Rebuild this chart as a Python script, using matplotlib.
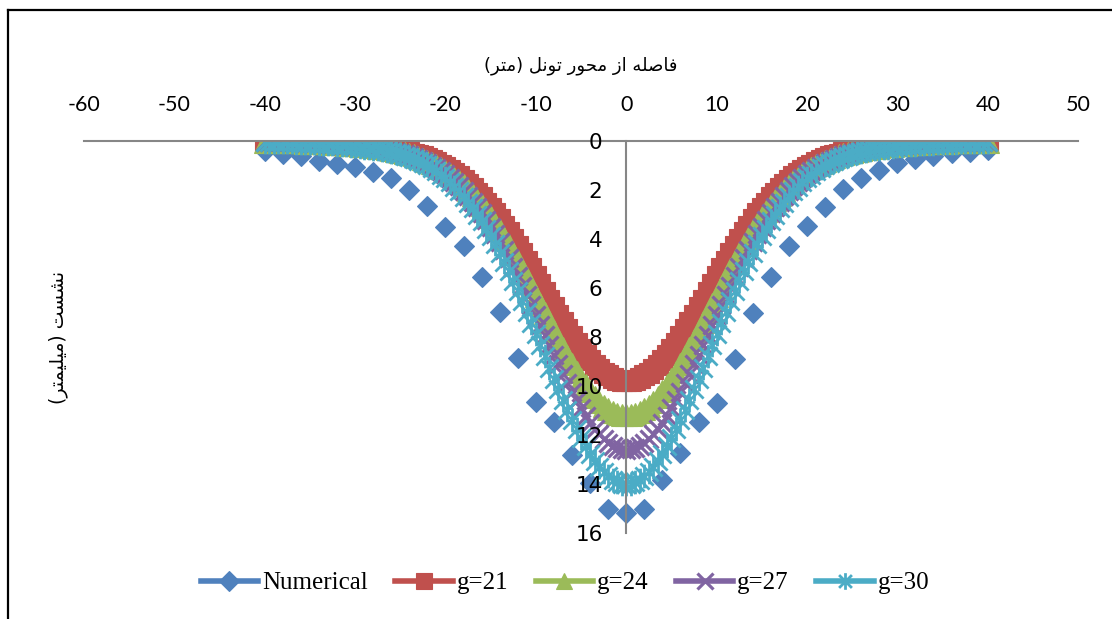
import numpy as np
import matplotlib

matplotlib.use("Agg")
import matplotlib.pyplot as plt
from matplotlib.lines import Line2D
from matplotlib.path import Path

plt.rcParams["axes.unicode_minus"] = False

# distance from tunnel axis (m) and settlement (mm)
num_x = [-40, -38, -36, -34, -32, -30, -28, -26, -24, -22, -20, -18, -16, -14, -12, -10, -8, -6, -4, -2,
         0, 2, 4, 6, 8, 10, 12, 14, 16, 18, 20, 22, 24, 26, 28, 30, 32, 34, 36, 38, 40]
num_s = [0.42, 0.52, 0.63, 0.80, 0.95, 1.05, 1.25, 1.52, 1.98, 2.66, 3.50, 4.30, 5.56, 6.97, 8.87, 10.65, 11.46,
         12.80, 13.95, 15.00, 15.20, 15.00, 13.84, 12.75, 11.46, 10.68, 8.90, 7.00, 5.55, 4.28, 3.45, 2.68, 1.96,
         1.49, 1.18, 0.91, 0.75, 0.61, 0.50, 0.44, 0.37]

# g-curves are symmetric about the axis: values for x = 0, 0.5, ..., 40
half_x = np.arange(0, 40.5, 0.5)
g21 = [9.80, 9.79, 9.74, 9.67, 9.57, 9.45, 9.31, 9.13, 8.94, 8.72, 8.49, 8.23, 7.97, 7.68, 7.40, 7.10,
       6.79, 6.48, 6.15, 5.83, 5.52, 5.20, 4.89, 4.59, 4.28, 4.00, 3.72, 3.45, 3.19, 2.95, 2.72, 2.51,
       2.29, 2.11, 1.92, 1.75, 1.59, 1.44, 1.30, 1.18, 1.06, 0.96, 0.86, 0.77, 0.70, 0.63, 0.57, 0.51,
       0.46, 0.42, 0.38, 0.34, 0.31, 0.28, 0.26, 0.24, 0.22, 0.20, 0.19, 0.17, 0.16, 0.14, 0.13, 0.12,
       0.11, 0.10, 0.09, 0.08, 0.08, 0.07, 0.06, 0.06, 0.05, 0.05, 0.04, 0.04, 0.04, 0.03, 0.03, 0.03, 0.03]
g24 = [11.20, 11.19, 11.13, 11.05, 10.94, 10.80, 10.64, 10.44, 10.21, 9.97, 9.70, 9.41, 9.11, 8.78, 8.46,
       8.11, 7.76, 7.40, 7.03, 6.66, 6.31, 5.95, 5.59, 5.24, 4.89, 4.57, 4.26, 3.94, 3.65, 3.37, 3.11, 2.87,
       2.62, 2.41, 2.20, 2.00, 1.81, 1.65, 1.49, 1.34, 1.21, 1.10, 0.99, 0.88, 0.80, 0.72, 0.65, 0.58, 0.53,
       0.48, 0.44, 0.39, 0.36, 0.32, 0.30, 0.27, 0.25, 0.22, 0.21, 0.19, 0.18, 0.16, 0.15, 0.13, 0.12, 0.11,
       0.10, 0.09, 0.09, 0.08, 0.07, 0.07, 0.06, 0.06, 0.04, 0.04, 0.04, 0.03, 0.03, 0.03, 0.03]
g27 = [12.60, 12.59, 12.52, 12.44, 12.31, 12.15, 11.97, 11.74, 11.49, 11.21, 10.91, 10.58, 10.24, 9.88,
       9.51, 9.12, 8.73, 8.33, 7.91, 7.50, 7.09, 6.69, 6.29, 5.90, 5.51, 5.14, 4.79, 4.44, 4.11, 3.79, 3.50,
       3.23, 2.95, 2.71, 2.47, 2.26, 2.04, 1.85, 1.68, 1.51, 1.36, 1.23, 1.11, 1.00, 0.89, 0.81, 0.73, 0.66,
       0.59, 0.54, 0.49, 0.44, 0.40, 0.37, 0.34, 0.30, 0.28, 0.25, 0.24, 0.21, 0.20, 0.18, 0.16, 0.15, 0.14,
       0.13, 0.11, 0.10, 0.10, 0.09, 0.08, 0.08, 0.06, 0.06, 0.05, 0.05, 0.05, 0.04, 0.04, 0.04, 0.04]
g30 = [14.00, 13.99, 13.92, 13.82, 13.68, 13.50, 13.30, 13.05, 12.77, 12.46, 12.12, 11.76, 11.38, 10.98,
       10.57, 10.14, 9.70, 9.25, 8.79, 8.33, 7.88, 7.43, 6.99, 6.55, 6.12, 5.71, 5.32, 4.93, 4.56, 4.21,
       3.89, 3.58, 3.28, 3.01, 2.74, 2.51, 2.27, 2.06, 1.86, 1.68, 1.51, 1.37, 1.23, 1.11, 0.99, 0.90, 0.81,
       0.73, 0.66, 0.60, 0.55, 0.49, 0.45, 0.41, 0.38, 0.34, 0.31, 0.28, 0.27, 0.24, 0.22, 0.20, 0.18, 0.17,
       0.15, 0.14, 0.13, 0.11, 0.11, 0.10, 0.08, 0.08, 0.07, 0.07, 0.06, 0.06, 0.06, 0.04, 0.04, 0.04, 0.04]

labels = ["Numerical", "g=21", "g=24", "g=27", "g=30"]
x_ticks = [-60, -50, -40, -30, -20, -10, 0, 10, 20, 30, 40, 50]
y_ticks = [0, 2, 4, 6, 8, 10, 12, 14, 16]

title_fa = "فاصله از محور تونل (متر)"
ylabel_fa = "نشست (میلیمتر)"

# matplotlib has no Arabic shaping: map letters to presentation forms
# (isolated, final, initial, medial); None = does not join to the next letter
ARABIC_FORMS = {
    "ا": ("\ufe8d", "\ufe8e", None, None),
    "ت": ("\ufe95", "\ufe96", "\ufe97", "\ufe98"),
    "ح": ("\ufea1", "\ufea2", "\ufea3", "\ufea4"),
    "ر": ("\ufead", "\ufeae", None, None),
    "ز": ("\ufeaf", "\ufeb0", None, None),
    "س": ("\ufeb1", "\ufeb2", "\ufeb3", "\ufeb4"),
    "ش": ("\ufeb5", "\ufeb6", "\ufeb7", "\ufeb8"),
    "ص": ("\ufeb9", "\ufeba", "\ufebb", "\ufebc"),
    "ف": ("\ufed1", "\ufed2", "\ufed3", "\ufed4"),
    "ل": ("\ufedd", "\ufede", "\ufedf", "\ufee0"),
    "م": ("\ufee1", "\ufee2", "\ufee3", "\ufee4"),
    "ن": ("\ufee5", "\ufee6", "\ufee7", "\ufee8"),
    "ه": ("\ufee9", "\ufeea", "\ufeeb", "\ufeec"),
    "و": ("\ufeed", "\ufeee", None, None),
    "ی": ("\ufbfc", "\ufbfd", "\ufbfe", "\ufbff"),
}


def shape_rtl(text):
    out = []
    for i, ch in enumerate(text):
        forms = ARABIC_FORMS.get(ch)
        if forms is None:
            out.append(ch)
            continue
        prev = text[i - 1] if i > 0 else ""
        nxt = text[i + 1] if i + 1 < len(text) else ""
        join_prev = prev in ARABIC_FORMS and ARABIC_FORMS[prev][2] is not None
        join_next = nxt in ARABIC_FORMS and forms[2] is not None
        if join_prev and join_next:
            out.append(forms[3])
        elif join_prev:
            out.append(forms[1])
        elif join_next:
            out.append(forms[2])
        else:
            out.append(forms[0])
    mirror = {"(": ")", ")": "("}
    return "".join(mirror.get(c, c) for c in reversed(out))


def mirrored(values):
    values = np.asarray(values, dtype=float)
    return np.concatenate([values[:0:-1], values])


star = Path([(-1, -1), (1, 1), (-1, 1), (1, -1), (0, -1.3), (0, 1.3)],
            [Path.MOVETO, Path.LINETO, Path.MOVETO, Path.LINETO, Path.MOVETO, Path.LINETO])

colors = ["#4F81BD", "#C0504D", "#9BBB59", "#8064A2", "#4BACC6"]
styles = [
    dict(marker="D", ms=10, mew=0.8),
    dict(marker="s", ms=14.5, mew=0.8),
    dict(marker="^", ms=16, mew=0.8),
    dict(marker="x", ms=13.5, mew=2.3),
    dict(marker=star, ms=17, mew=2.0),
]

fig = plt.figure(figsize=(11.12, 6.19), dpi=100)
ax = fig.add_axes([0.0755, 0.1389, 0.894, 0.6333])

gx = np.concatenate([-half_x[:0:-1], half_x])
series = [(num_x, num_s)] + [(gx, mirrored(v)) for v in (g21, g24, g27, g30)]

for (xs, ys), color, st in zip(series, colors, styles):
    ax.plot(xs, ys, linestyle="none", color=color, mec=color, mfc=color, zorder=2, **st)

ax.set_xlim(-60, 50)
ax.set_ylim(16, 0)
ax.set_xticks(x_ticks)
ax.set_yticks(y_ticks)
ax.xaxis.tick_top()
ax.tick_params(axis="x", length=0, pad=19, labelsize=15.5)
ax.tick_params(axis="y", length=0, pad=17, labelsize=15.5)
for lab in ax.get_xticklabels() + ax.get_yticklabels():
    lab.set_fontfamily("Lato")

for side in ("right", "bottom"):
    ax.spines[side].set_visible(False)
ax.spines["left"].set_position(("data", 0))
for side in ("left", "top"):
    ax.spines[side].set_color("#868686")
    ax.spines[side].set_linewidth(1.5)
    ax.spines[side].set_zorder(5)
ax.xaxis.set_zorder(6)
ax.yaxis.set_zorder(6)

fig.text(0.5225, 1 - 66 / 619, shape_rtl(title_fa), ha="center", va="center",
         fontsize=13, family=["DejaVu Sans"])
fig.text(58 / 1112, 0.455, shape_rtl(ylabel_fa), ha="center", va="center", rotation=90,
         fontsize=13.5, family=["DejaVu Sans"])

legend_styles = [dict(st, ms=min(st["ms"], 12)) for st in styles]
handles = [Line2D([], [], color=c, lw=4, mec=c, mfc=c, **st) for c, st in zip(colors, legend_styles)]
fig.legend(handles, labels, loc="center", bbox_to_anchor=(0.508, 1 - 583 / 619), ncol=5,
           frameon=False, prop={"family": "Liberation Serif", "size": 18},
           handlelength=2.3, handletextpad=0.15, columnspacing=1.1)

# chart area border (top and left edges visible)
fig.add_artist(Line2D([8 / 1112, 1.0], [1 - 10 / 619, 1 - 10 / 619], transform=fig.transFigure,
                      color="black", lw=1.6))
fig.add_artist(Line2D([8 / 1112, 8 / 1112], [0.0, 1 - 10 / 619], transform=fig.transFigure,
                      color="black", lw=1.6))

fig.savefig("out.png", dpi=100)
